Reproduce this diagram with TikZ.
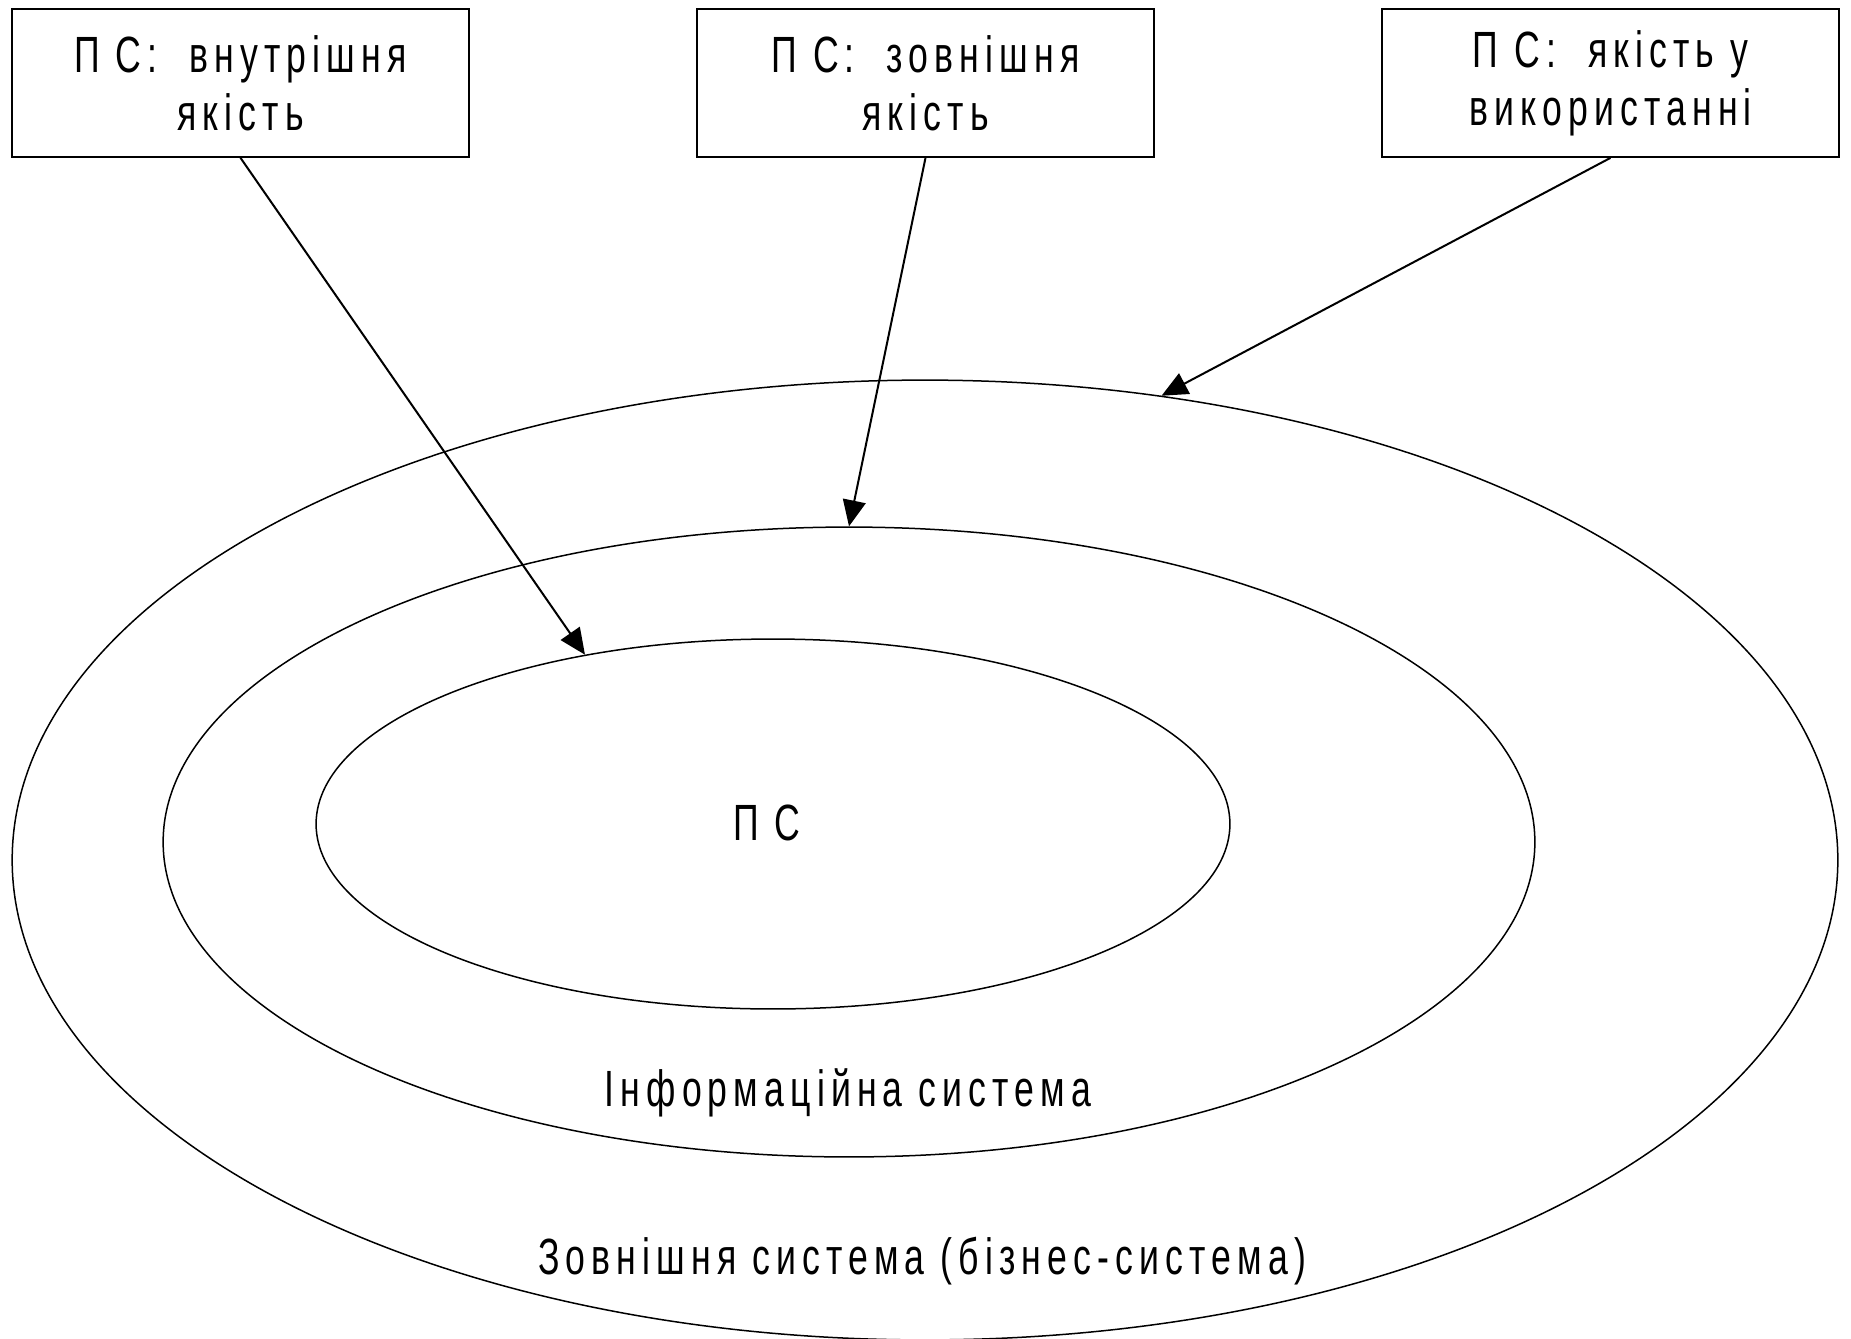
\documentclass[tikz,border=0pt]{standalone}
\usepackage{fontspec}
\setmainfont{Liberation Sans}[FakeStretch=0.7, LetterSpace=12]
\usetikzlibrary{shapes.geometric, arrows.meta}

\begin{document}
\begin{tikzpicture}[x=0.02cm, y=-0.02cm,
  txt/.style={font=\fontsize{29}{33}\selectfont, inner sep=0pt},
  qbox/.style={draw, line width=0.035cm, minimum width=9.14cm, minimum height=2.96cm,
    inner sep=0pt, align=center, font=\fontsize{29}{33}\selectfont},
  ring/.style={draw, ellipse, inner sep=0pt, line width=0.03cm},
  arr/.style={line width=0.04cm, -{Triangle[length=0.52cm, width=0.46cm]}}]

  \useasboundingbox (0,0) rectangle (1851,1338);
  \clip (0,0) rectangle (1851,1338);

  % nested system rings
  \node[ring, minimum width=36.52cm, minimum height=19.2cm] (outer) at (925,860) {};
  \node[ring, minimum width=27.44cm, minimum height=12.6cm] (middle) at (849,842) {};
  \node[ring, minimum width=18.28cm, minimum height=7.4cm] (inner) at (773,824) {};

  % ring labels
  \node[txt] (ps) at (767,823) {П С};
  \node[txt] (is) at (848,1093) {Інформаційна система};
  \node[txt] (bs) at (922,1261) {Зовнішня система (бізнес-система)};

  % quality boxes
  \node[qbox] (q1) at (240.5,83) {П С:~ внутрішня\\якість};
  \node[qbox] (q2) at (925.5,83) {П С:~ зовнішня\\якість};
  \node[qbox] (q3) at (1610.5,83) {П С:~ якість у\\використанні};

  % arrows to the rings
  \draw[arr] (q1.south) -- (inner.138);
  \draw[arr] (q2.south) -- (middle.90);
  \draw[arr] (q3.south) -- (outer.63.8);
\end{tikzpicture}
\end{document}
